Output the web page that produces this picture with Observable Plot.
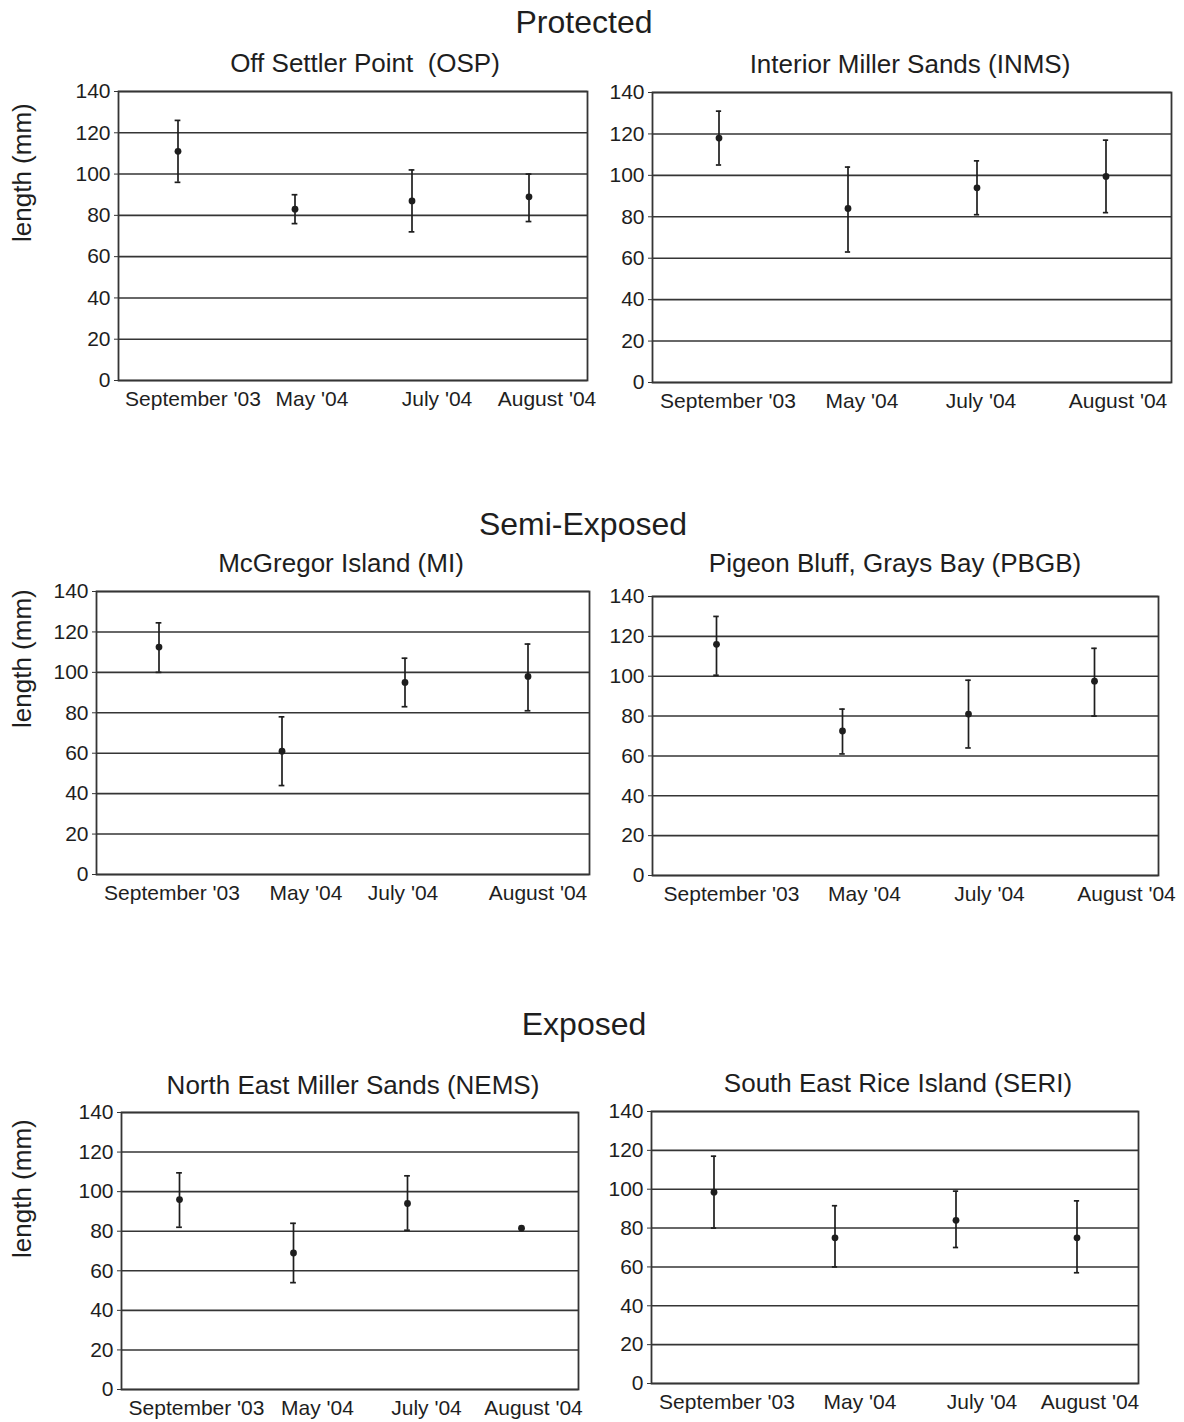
<!DOCTYPE html>
<html>
<head>
<meta charset="utf-8">
<script src="https://cdn.jsdelivr.net/npm/d3@7"></script>
<script src="https://cdn.jsdelivr.net/npm/@observablehq/plot@0.6"></script>
<style>
  body { margin: 0; background: #fff; }
  #page { position: relative; width: 1184px; height: 1422px; font-family: "Liberation Sans", Arial, sans-serif; color: #1e1e1e; }
  .sec { position: absolute; width: 600px; font-size: 32px; line-height: 1; text-align: center; }
  .sub { position: absolute; width: 600px; font-size: 26px; line-height: 1; text-align: center; white-space: pre; }
  .panel { position: absolute; }
</style>
</head>
<body>
<div id="page"></div>
<script>
// Sampling dates (x categories) and y-axis ticks
const months = ["September '03", "May '04", "July '04", "August '04"];
const yTicks = [0, 20, 40, 60, 80, 100, 120, 140];

// Group headings and site names
const sections = ["Protected", "Semi-Exposed", "Exposed"];
const siteNames = [
  "Off Settler Point  (OSP)",
  "Interior Miller Sands (INMS)",
  "McGregor Island (MI)",
  "Pigeon Bluff, Grays Bay (PBGB)",
  "North East Miller Sands (NEMS)",
  "South East Rice Island (SERI)"
];
const yLabel = "length (mm)";

// Mean length (mm) with lower / upper error-bar ends, per site
const meanOSP  = [111, 83, 87, 89];
const lowOSP   = [96, 76, 72, 77];
const highOSP  = [126, 90, 102, 100];

const meanINMS = [118, 84, 94, 99.5];
const lowINMS  = [105, 63, 81, 82];
const highINMS = [131, 104, 107, 117];

const meanMI   = [112.5, 61, 95, 98];
const lowMI    = [100, 44, 83, 81];
const highMI   = [124.5, 78, 107, 114];

const meanPBGB = [116, 72.5, 81, 97.5];
const lowPBGB  = [100.5, 61, 64, 80];
const highPBGB = [130, 83.5, 98, 114];

const meanNEMS = [96, 69, 94, 81.5];
const lowNEMS  = [82, 54, 80.5, null];
const highNEMS = [109.5, 84, 108, null];

const meanSERI = [98.5, 75, 84, 75];
const lowSERI  = [80, 60, 70, 57];
const highSERI = [117, 91.5, 99, 94];

// Page layout: frame box [left, right, top, bottom] in page pixels for each panel,
// plus a horizontal nudge (px) for each month label
const layout = [
  {site: 0, mean: meanOSP,  low: lowOSP,  high: highOSP,  frame: [118, 587, 91, 380],    svgLeft: 0,   svgWidth: 600, titleX: 365, titleBase: 72,   ylab: true, labDy: 6,  labelNudge: [15, 17, 25, 18]},
  {site: 1, mean: meanINMS, low: lowINMS, high: highINMS, frame: [652, 1171, 92, 382],   svgLeft: 592, svgWidth: 592, titleX: 910, titleBase: 73,   ylab: false, labelNudge: [9, 14, 4, 12]},
  {site: 2, mean: meanMI,   low: lowMI,   high: highMI,   frame: [96, 589, 591, 874],    svgLeft: 0,   svgWidth: 600, titleX: 341, titleBase: 572,  ylab: true, labDy: -5, labelNudge: [13, 24, -2, 10]},
  {site: 3, mean: meanPBGB, low: lowPBGB, high: highPBGB, frame: [652, 1158, 596, 875],  svgLeft: 592, svgWidth: 592, titleX: 895, titleBase: 572,  ylab: false, labelNudge: [15, 22, 21, 32]},
  {site: 4, mean: meanNEMS, low: lowNEMS, high: highNEMS, frame: [121, 578, 1112, 1389], svgLeft: 0,   svgWidth: 600, titleX: 353, titleBase: 1094, ylab: true, labDy: 7,  labelNudge: [17, 24, 19, 12]},
  {site: 5, mean: meanSERI, low: lowSERI, high: highSERI, frame: [651, 1138, 1111, 1383], svgLeft: 592, svgWidth: 592, titleX: 898, titleBase: 1092, ylab: false, labelNudge: [13, 25, 26, 13]}
];
const sectionLayout = [
  {text: sections[0], x: 584, base: 33},
  {text: sections[1], x: 583, base: 535},
  {text: sections[2], x: 584, base: 1035}
];

const page = document.getElementById("page");
const ink = "#1e1e1e";
const lineInk = "#353535";

// Headings (baseline sits ~0.846em below the top with line-height 1)
for (const s of sectionLayout) {
  const div = document.createElement("div");
  div.className = "sec";
  div.textContent = s.text;
  div.style.left = (s.x - 300) + "px";
  div.style.top = (s.base - 0.846 * 32) + "px";
  page.appendChild(div);
}

for (const p of layout) {
  const [fx0, fx1, fy0, fy1] = p.frame;

  const title = document.createElement("div");
  title.className = "sub";
  title.textContent = siteNames[p.site];
  title.style.left = (p.titleX - 300) + "px";
  title.style.top = (p.titleBase - 0.846 * 26) + "px";
  page.appendChild(title);

  const rows = months.map((m, i) => ({month: m, mean: p.mean[i], low: p.low[i], high: p.high[i]}));
  const bars = rows.filter(d => d.low != null && d.high != null);

  const svgTop = fy0 - 20;
  const height = fy1 - fy0 + 60;
  const width = p.svgWidth;
  const bw = (fx1 - fx0) / months.length;
  const capInset = bw / 2 - 3;

  const marks = [
    Plot.ruleY(yTicks, {stroke: lineInk, strokeWidth: 1.6}),
    Plot.frame({stroke: lineInk, strokeWidth: 1.8}),
    Plot.axisY(yTicks, {tickSize: 4, tickPadding: 4, fontSize: 21, label: null, stroke: lineInk}),
    // one axis label per month so each can carry its own nudge
    ...months.map((m, i) => Plot.axisX([m], {tickSize: 0, tickPadding: 11, fontSize: 21, label: null, dx: p.labelNudge[i]})),
    Plot.ruleX(bars, {x: "month", y1: "low", y2: "high", stroke: ink, strokeWidth: 1.7}),
    Plot.tickY(bars, {x: "month", y: "low", insetLeft: capInset, insetRight: capInset, stroke: ink, strokeWidth: 1.7}),
    Plot.tickY(bars, {x: "month", y: "high", insetLeft: capInset, insetRight: capInset, stroke: ink, strokeWidth: 1.7}),
    Plot.dot(rows, {x: "month", y: "mean", r: 3.4, fill: ink, stroke: "none"})
  ];
  if (p.ylab) {
    marks.push(Plot.text([yLabel], {
      text: d => d, frameAnchor: "left", rotate: -90,
      dx: 22 - fx0, dy: p.labDy, fontSize: 26, fill: ink
    }));
  }

  const chart = Plot.plot({
    width, height,
    marginLeft: fx0 - p.svgLeft,
    marginRight: p.svgLeft + width - fx1,
    marginTop: fy0 - svgTop,
    marginBottom: svgTop + height - fy1,
    style: {
      background: "transparent",
      overflow: "visible",
      fontFamily: "\"Liberation Sans\", Arial, sans-serif",
      fontSize: "21px",
      color: ink
    },
    x: {type: "band", domain: months, padding: 0},
    y: {domain: [0, 140]},
    marks
  });
  chart.classList.add("panel");
  chart.style.left = p.svgLeft + "px";
  chart.style.top = svgTop + "px";
  page.appendChild(chart);
}
</script>
</body>
</html>
